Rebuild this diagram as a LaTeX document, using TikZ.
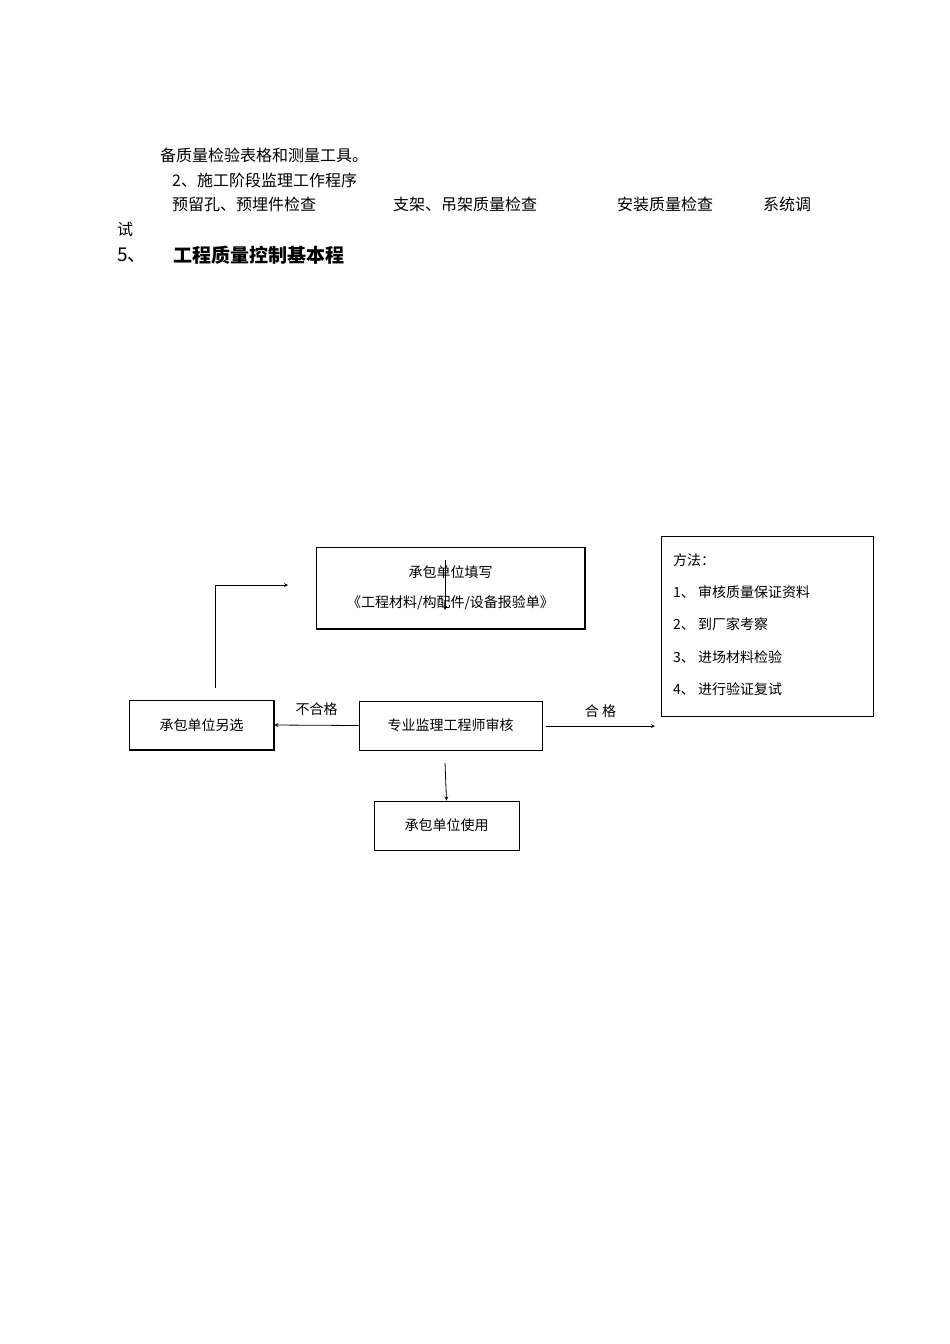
\documentclass[tikz,border=0pt]{standalone}
\usepackage{fontspec}
\newfontfamily\cjk{Noto Sans CJK SC}
\begin{document}
\begin{tikzpicture}[x=1pt,y=-1pt,
  box/.style={draw,thick,inner sep=0pt},
  lbl/.style={font=\cjk\fontsize{14}{16}\selectfont,anchor=west,inner sep=0pt},
  body/.style={font=\cjk\fontsize{16}{18}\selectfont,anchor=west,inner sep=0pt},
  arr/.style={->,>=stealth,thick}]
\useasboundingbox[fill=white] (0,0) rectangle (950,1344);
\node[body] (t1) at (160,155) {备质量检验表格和测量工具。};
\node[body] (t2) at (172,180) {2、施工阶段监理工作程序};
\node[body] (t3) at (172,204) {预留孔、预埋件检查};
\node[body] (t4) at (393,204) {支架、吊架质量检查};
\node[body] (t5) at (617,204) {安装质量检查};
\node[body] (t6) at (763,204) {系统调};
\node[body] (t7) at (117,229) {试};
\node[body,font=\cjk\fontsize{19}{21}\selectfont] (h1) at (117,255) {5、};
\node[body,font=\cjk\bfseries\fontsize{19}{21}\selectfont] (h2) at (173,255) {工程质量控制基本程};
% boxes
\node[box,minimum width=269,minimum height=82,align=center,font=\cjk\fontsize{14}{30}\selectfont] (top) at (450.5,588) {承包单位填写\\《工程材料/构配件/设备报验单》};
\draw[line width=1.5pt] (585,548)--(585,629)--(317,629);
\node[box,minimum width=212,minimum height=180] (meth) at (767,626) {};
\node[lbl] (m0) at (673,560) {方法：};
\node[lbl] (m1) at (673,592) {1、 审核质量保证资料};
\node[lbl] (m2) at (673,624) {2、 到厂家考察};
\node[lbl] (m3) at (673,657) {3、 进场材料检验};
\node[lbl] (m4) at (673,689) {4、 进行验证复试};
\node[box,minimum width=145,minimum height=50,font=\cjk\fontsize{14}{16}\selectfont] (left) at (201.5,725) {承包单位另选};
\node[box,minimum width=183,minimum height=49,font=\cjk\fontsize{14}{16}\selectfont] (mid) at (450.5,725.5) {专业监理工程师审核};
\node[box,minimum width=145,minimum height=49,font=\cjk\fontsize{14}{16}\selectfont] (bot) at (446.5,825.5) {承包单位使用};
\draw[line width=1.5pt] (274,700)--(274,750)--(129,750);
% arrows
\coordinate (a1) at (445,560);\coordinate (a2) at (445,610);
\draw[arr] (a1)--(a2);
\draw[arr] (mid.west) -- (left.east) node[midway,above=6pt,font=\cjk\fontsize{14}{16}\selectfont]{不合格};
\coordinate (mr) at (546,726);\coordinate (ml) at (655,726);
\draw[arr] (mr)--(ml) node[midway,above=5pt,font=\cjk\fontsize{14}{16}\selectfont]{合\ 格};
\coordinate (d1) at (445,763);
\draw[arr] (d1)--(bot.north);
\coordinate (u1) at (215,688);\coordinate (u2) at (215,585);\coordinate (u3) at (288,585);
\draw[arr] (u1)--(u2)--(u3);
\end{tikzpicture}
\end{document}
